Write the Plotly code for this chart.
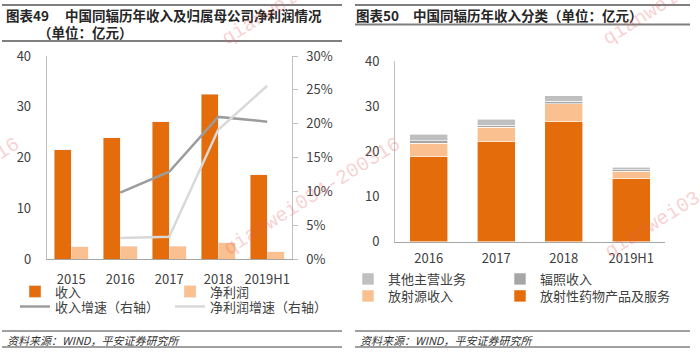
import plotly.graph_objects as go

# ---------------- data ----------------
years_l = ['2015', '2016', '2017', '2018', '2019H1']
revenue = [21.5, 23.9, 27.0, 32.5, 16.6]
net_profit = [2.4, 2.5, 2.5, 3.2, 1.4]
growth_years = ['2016', '2017', '2018', '2019H1']
revenue_growth = [0.098, 0.129, 0.210, 0.203]
profit_growth = [0.031, 0.033, 0.191, 0.256]

years_r = ['2016', '2017', '2018', '2019H1']
radiopharma = [18.8, 22.1, 26.5, 13.9]
radio_source = [3.0, 3.2, 4.0, 1.7]
irradiation = [0.5, 0.45, 0.6, 0.3]
other_biz = [1.5, 1.35, 1.2, 0.6]

# ---------------- style ----------------
W, H = 700, 355
ORANGE = '#E46C0A'
PEACH = '#FAC090'
DGRAY = '#A6A6A6'
LGRAY = '#BFBFBF'
LINE_LIGHT = '#D9D9D9'
AXIS = '#A6A6A6'
TXT = '#404040'
FONT = 'Noto Sans CJK SC'


def px(x):
    return x / W


def py(y):
    return 1 - y / H


fig = go.Figure()

# left chart
fig.add_trace(go.Bar(x=years_l, y=revenue, name='收入', marker_color=ORANGE,
                     width=0.35, offset=-0.35, xaxis='x', yaxis='y', legend='legend'))
fig.add_trace(go.Bar(x=years_l, y=net_profit, name='净利润', marker_color=PEACH,
                     width=0.35, offset=0.0, xaxis='x', yaxis='y3', legend='legend2'))
fig.add_trace(go.Scatter(x=growth_years, y=revenue_growth, mode='lines', name='收入增速（右轴）',
                         line=dict(color='#9C9C9C', width=2.5), xaxis='x', yaxis='y2',
                         legend='legend3'))
fig.add_trace(go.Scatter(x=growth_years, y=profit_growth, mode='lines', name='净利润增速（右轴）',
                         line=dict(color=LINE_LIGHT, width=2.5), xaxis='x', yaxis='y2',
                         legend='legend4'))

# right chart (stacked)
bl = dict(color='white', width=0.6)
fig.add_trace(go.Bar(x=years_r, y=radiopharma, name='放射性药物产品及服务',
                     marker=dict(color=ORANGE, line=bl), width=0.57,
                     xaxis='x2', yaxis='y4', legend='legend8'))
fig.add_trace(go.Bar(x=years_r, y=radio_source, name='放射源收入',
                     marker=dict(color=PEACH, line=bl), width=0.57,
                     xaxis='x2', yaxis='y4', legend='legend7'))
fig.add_trace(go.Bar(x=years_r, y=irradiation, name='辐照收入',
                     marker=dict(color=DGRAY, line=bl), width=0.57,
                     xaxis='x2', yaxis='y4', legend='legend6'))
fig.add_trace(go.Bar(x=years_r, y=other_biz, name='其他主营业务',
                     marker=dict(color=LGRAY, line=bl), width=0.57,
                     xaxis='x2', yaxis='y4', legend='legend5'))

tickfont = dict(family=FONT, size=13, color=TXT)
legfont = dict(family=FONT, size=13, color=TXT)


def leg(text_x, row_y):
    return dict(orientation='h', x=px(text_x - 40), y=py(row_y), xanchor='left',
                yanchor='middle', font=legfont, bgcolor='rgba(0,0,0,0)',
                itemclick=False, tracegroupgap=0, visible=True)


fig.update_layout(
    width=W, height=H,
    margin=dict(l=0, r=0, t=0, b=0, autoexpand=False),
    paper_bgcolor='white', plot_bgcolor='white',
    barmode='stack',
    showlegend=True,
    font=dict(family=FONT, color=TXT),
    xaxis=dict(domain=[px(46.7), px(291.7)], type='category', range=[-0.5, 4.5],
               showline=True, linecolor=AXIS, linewidth=1, ticks='', showgrid=False,
               tickfont=tickfont, anchor='y', ticklabelstandoff=8),
    yaxis=dict(domain=[py(259), py(56)], range=[0, 40], dtick=10, showline=True,
               linecolor=LGRAY, linewidth=1, ticks='', showgrid=False, zeroline=False,
               tickfont=tickfont, anchor='x', ticklabelstandoff=12),
    yaxis2=dict(overlaying='y', side='right', range=[0, 0.30], dtick=0.05,
                tickformat='.0%', showline=True, linecolor=LGRAY, linewidth=1,
                ticks='outside', ticklen=5, tickcolor=LGRAY, showgrid=False,
                zeroline=False, tickfont=tickfont, anchor='x', ticklabelstandoff=6),
    yaxis3=dict(overlaying='y', range=[0, 40], visible=False, anchor='x'),
    xaxis2=dict(domain=[px(395), px(665)], type='category', range=[-0.5, 3.5],
                showline=True, linecolor=AXIS, linewidth=1, ticks='', showgrid=False,
                tickfont=tickfont, anchor='y4', ticklabelstandoff=5),
    yaxis4=dict(domain=[py(241.7), py(61)], range=[0, 40], dtick=10, showline=True,
                linecolor=LGRAY, linewidth=1, ticks='', showgrid=False, zeroline=False,
                tickfont=tickfont, anchor='x2', ticklabelstandoff=12),
    legend=leg(55, 291.5),
    legend2=leg(210, 291.5),
    legend3=leg(55, 306.5),
    legend4=leg(210, 306.5),
    legend5=leg(388, 279),
    legend6=leg(540, 279),
    legend7=leg(388, 296),
    legend8=leg(540, 296),
)

shapes = []


def hline(x0, x1, y, color, width):
    shapes.append(dict(type='line', xref='paper', yref='paper', x0=px(x0), x1=px(x1),
                       y0=py(y), y1=py(y), line=dict(color=color, width=width)))


# title rules
hline(2, 342, 5, '#7F7F7F', 2)
hline(2, 342, 41, '#7F7F7F', 2)
hline(355, 690, 5, '#7F7F7F', 2)
hline(355, 690, 24.5, '#7F7F7F', 2)
# footer rules
hline(2, 342, 331, '#404040', 1)
hline(2, 342, 347, '#404040', 1)
hline(355, 690, 331, '#404040', 1)
hline(355, 690, 347, '#404040', 1)

ann = []


def text(x, y, s, size, bold=False, italic=False, color='#262626'):
    ann.append(dict(xref='paper', yref='paper', x=px(x), y=py(y), text=s,
                    showarrow=False, xanchor='left', yanchor='middle',
                    font=dict(family=FONT, size=size, color=color,
                              weight='bold' if bold else 'normal',
                              style='italic' if italic else 'normal')))


text(4, 15, '图表49', 13.5, bold=True)
text(63, 15, '中国同辐历年收入及归属母公司净利润情况', 13.5, bold=True)
text(36, 32.5, '（单位：亿元）', 13.5, bold=True)
text(354, 15, '图表50', 13.5, bold=True)
text(411, 15, '中国同辐历年收入分类（单位：亿元）', 13.5, bold=True)
text(5, 339.5, '资料来源：WIND，平安证券研究所', 11, italic=True, color='#333333')
text(358, 339.5, '资料来源：WIND，平安证券研究所', 11, italic=True, color='#333333')

# watermark
for cx, cy in [(312, 196), (693, 199), (-69, 196), (310, -14), (691, -14)]:
    ann.append(dict(xref='paper', yref='paper', x=px(cx), y=py(cy),
                    text='qianwei034-200316', showarrow=False, textangle=-32,
                    xanchor='center', yanchor='middle',
                    font=dict(family='Liberation Mono', size=20,
                              color='rgba(232,96,96,0.30)')))

fig.update_layout(shapes=shapes, annotations=ann)
fig.write_html(
    'out.html',
    config={'displayModeBar': False},
    post_script="document.body.style.margin='0';document.body.style.overflow='hidden';",
)
